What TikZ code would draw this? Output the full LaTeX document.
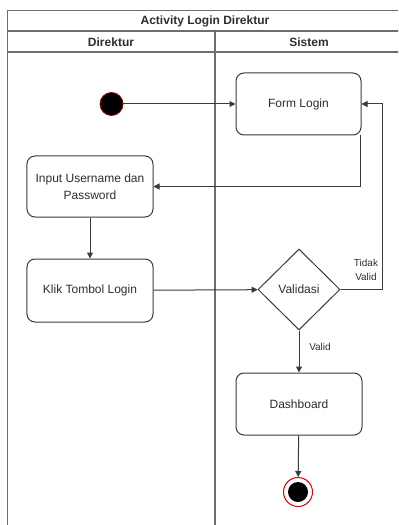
\documentclass[tikz,border=0pt]{standalone}
\usepackage{fontspec}
\setmainfont{Liberation Sans}
\usetikzlibrary{arrows.meta,shapes.geometric}

\definecolor{linegray}{HTML}{3A3A3A}
\definecolor{framegray}{HTML}{6E6E6E}
\definecolor{txtgray}{HTML}{2E2E2E}

\tikzset{
  actbox/.style={draw=linegray, line width=1bp, rounded corners=8bp, fill=white,
    minimum width=126bp, minimum height=62bp, inner sep=2bp, align=center,
    text=txtgray, font=\fontsize{12bp}{16.5bp}\selectfont},
  decision/.style={diamond, draw=linegray, line width=1bp, fill=white,
    minimum width=82bp, minimum height=81bp, inner sep=0pt, align=center,
    text=txtgray, font=\fontsize{12bp}{14bp}\selectfont},
  flow/.style={draw=linegray, line width=1bp, -{Triangle[length=6bp,width=6bp]}},
  frameline/.style={draw=framegray, line width=1.2bp},
  lanehead/.style={font=\bfseries\fontsize{12bp}{14bp}\selectfont, text=txtgray},
  edgelabel/.style={font=\fontsize{10bp}{14bp}\selectfont, text=txtgray, align=center}
}

\begin{document}
\begin{tikzpicture}[x=1bp, y=-1bp]
  \useasboundingbox (0,0) rectangle (398,525);
  \clip (0,0) rectangle (398,525);

  % pool with two swimlanes
  \draw[frameline] (7.5,600) -- (7.5,10.5) -- (403,10.5) -- (403,600);
  \draw[frameline] (7.5,31) -- (403,31);
  \draw[frameline] (7.5,52) -- (403,52);
  \draw[frameline] (215,31) -- (215,600);
  \node[lanehead] (title) at (205,21) {Activity Login Direktur};
  \node[lanehead] (lane1) at (111,42) {Direktur};
  \node[lanehead] (lane2) at (309,42) {Sistem};

  % activity nodes
  \node[circle, fill=black, draw=red!55!black, line width=0.8bp,
        minimum size=23bp, inner sep=0pt] (start) at (111.5,104) {};
  \node[actbox, minimum width=125bp] (form) at (298.5,104) {Form Login};
  \node[actbox, minimum height=61bp] (input) at (90,186.5) {Input Username dan\\Password};
  \node[actbox, minimum height=63bp] (klik) at (90,290.5) {Klik Tombol Login};
  \node[decision] (valid) at (299,289.5) {Validasi};
  \node[actbox] (dash) at (299,404) {Dashboard};
  \node[circle, draw=red!85!black, fill=white, line width=1bp,
        minimum size=29bp, inner sep=0pt,
        path picture={\fill[black] (path picture bounding box.center) circle (10bp);}]
        (end) at (298,492) {};

  % control flow
  \draw[flow] (start) -- (form);
  \draw[flow] ([xshift=-1bp]form.south east) |- (input.east);
  \draw[flow] (input) -- (klik);
  \draw[flow] (klik) -- (valid);
  \draw[flow] (valid.east) -- ++(42,0) coordinate (loopcorner) |- (form.east);
  \draw[flow] (valid) -- (dash);
  \draw[flow] (dash) -- (end);

  % guard labels
  \node[edgelabel] (notvalid) at (366,270) {Tidak\\Valid};
  \node[edgelabel] (isvalid) at (320,347) {Valid};
\end{tikzpicture}
\end{document}
